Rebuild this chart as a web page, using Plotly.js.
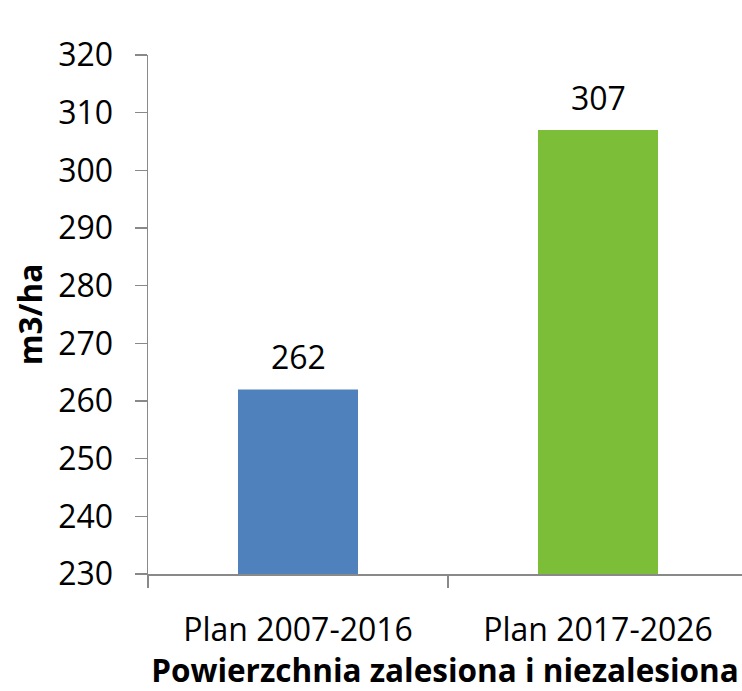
<!DOCTYPE html>
<html>
<head>
<meta charset="utf-8">
<script src="https://cdn.plot.ly/plotly-3.0.1.min.js"></script>
<style>html,body{margin:0;padding:0;background:#fff;}#chart{width:742px;height:691px;}</style>
</head>
<body>
<div id="chart"></div>
<script>
const categories = ["Plan 2007-2016", "Plan 2017-2026"];
const values = [262, 307];
const barColors = ["#4F81BD", "#7CBE37"];
const yTickVals = [230, 240, 250, 260, 270, 280, 290, 300, 310, 320];
const xTitle = "Powierzchnia zalesiona i niezalesiona";
const yTitle = "m3/ha";

const FONT = "Open Sans, Noto Sans, sans-serif";
const axisColor = "#898989";
const yBase = 230;

const trace = {
  type: "bar",
  x: categories,
  y: values.map(v => v - yBase),
  base: yBase,
  marker: {color: barColors},
  hoverinfo: "none"
};

const annotations = categories.map((c, i) => ({
  x: c, y: values[i], xref: "x", yref: "y",
  text: String(values[i]), showarrow: false,
  yanchor: "bottom", yshift: 9,
  font: {family: FONT, size: 32, color: "#000"}
}));

const layout = {
  width: 742, height: 691,
  margin: {l: 148, r: 0, t: 55, b: 117},
  paper_bgcolor: "#fff", plot_bgcolor: "#fff",
  showlegend: false,
  bargap: 0.6,
  font: {family: FONT, size: 32, color: "#000"},
  xaxis: {
    type: "category",
    range: [-0.5, 1.48],
    showline: true, linecolor: axisColor, linewidth: 1.5,
    ticks: "outside", ticklen: 12, tickcolor: axisColor, tickwidth: 1.5,
    tickson: "boundaries",
    showgrid: false, zeroline: false,
    tickfont: {family: FONT, size: 32, color: "#000"},
    ticklabelstandoff: 27,
    title: {text: xTitle, font: {family: FONT, size: 31.5, weight: "bold", color: "#000"}, standoff: 9}
  },
  yaxis: {
    range: [yBase, 320],
    tickvals: yTickVals,
    ticktext: yTickVals.map(String),
    showline: true, linecolor: axisColor, linewidth: 1.5,
    ticks: "outside", ticklen: 12, tickcolor: axisColor, tickwidth: 1.5,
    showgrid: false, zeroline: false,
    tickfont: {family: FONT, size: 32, color: "#000"},
    ticklabelstandoff: 15,
    title: {text: yTitle, font: {family: FONT, size: 31.5, weight: "bold", color: "#000"}, standoff: 6}
  },
  annotations: annotations
};

Plotly.newPlot("chart", [trace], layout, {staticPlot: true, displayModeBar: false});
</script>
</body>
</html>
